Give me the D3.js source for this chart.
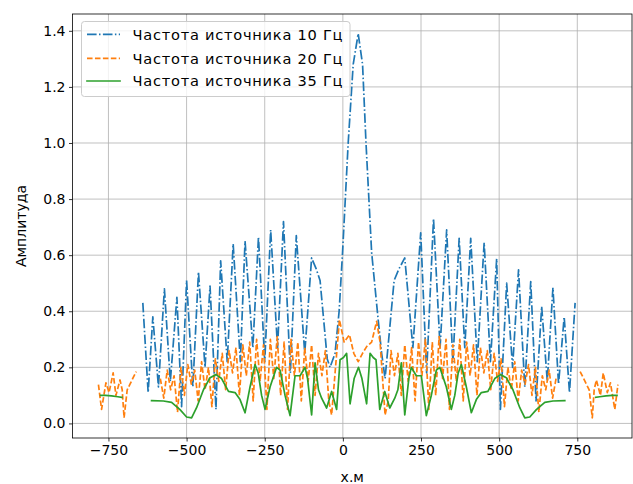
<!DOCTYPE html>
<html><head><meta charset="utf-8">
<script src="https://cdn.jsdelivr.net/npm/d3@7"></script>
<style>body{margin:0;background:#fff}svg{display:block}</style>
</head><body>
<svg id="chart" width="633" height="484"></svg>
<script>
// ---- data ----
const seriesNames = ["Частота источника 10 Гц", "Частота источника 20 Гц", "Частота источника 35 Гц"];
const xTicks = [-750, -500, -250, 0, 250, 500, 750];
const yTicks = [0.0, 0.2, 0.4, 0.6, 0.8, 1.0, 1.2, 1.4];
const xLabel = "х.м";
const yLabel = "Амплитуда";

// 10 Hz  [x, amplitude]
const amp10 = [
 [-640,0.43],[-623,0.11],[-608,0.38],[-590,0.13],[-571,0.48],[-552,0.15],[-531,0.45],[-516,0.06],
 [-500,0.51],[-480,0.13],[-462,0.54],[-441,0.20],[-425,0.49],[-406,0.05],[-391,0.58],[-370,0.22],
 [-351,0.64],[-328,0.22],[-313,0.65],[-288,0.27],[-270,0.665],[-250,0.22],[-231,0.69],[-209,0.27],
 [-190,0.72],[-168,0.18],[-149,0.67],[-122,0.25],[-100,0.59],[-85,0.55],[-73,0.51],[-50,0.23],
 [-41,0.20],[-25,0.25],[-12,0.40],[-1,0.61],[17,1.0],[33,1.28],[49,1.39],[63,1.28],[74,1.0],
 [92,0.61],[112,0.38],[124,0.25],[135,0.16],[164,0.51],[179,0.55],[198,0.59],[224,0.27],
 [249,0.68],[268,0.18],[290,0.73],[311,0.27],[332,0.69],[352,0.22],[372,0.66],[390,0.27],
 [409,0.66],[430,0.22],[452,0.645],[472,0.22],[492,0.587],[504,0.05],[524,0.50],[543,0.20],
 [562,0.548],[582,0.13],[601,0.506],[618,0.08],[636,0.417],[654,0.15],[672,0.484],[690,0.14],
 [708,0.38],[725,0.11],[743,0.43]
];

// 20 Hz  [x, amplitude], null = gap
const amp20 = [
 [-782,0.138],[-772,0.05],[-758,0.145],[-748,0.11],[-735,0.18],[-726,0.10],[-713,0.155],[-706,0.12],
 [-700,0.02],[-690,0.12],[-681,0.14],[-671,0.163],[-661,0.185],[-620,null],
 [-584,0.16],[-573,0.09],[-562,0.19],[-551,0.12],[-540,0.17],[-529,0.04],[-518,0.20],[-507,0.10],
 [-496,0.21],[-485,0.14],[-474,0.19],[-463,0.08],[-452,0.22],[-441,0.12],[-430,0.20],[-419,0.06],
 [-408,0.23],[-397,0.15],[-386,0.25],[-375,0.12],[-364,0.26],[-353,0.18],[-342,0.27],[-331,0.10],
 [-320,0.28],[-309,0.17],[-298,0.29],[-287,0.08],[-276,0.30],[-265,0.15],[-254,0.28],[-243,0.05],
 [-232,0.30],[-221,0.16],[-210,0.31],[-199,0.10],[-188,0.29],[-177,0.05],[-166,0.30],[-155,0.17],
 [-144,0.29],[-133,0.08],[-122,0.27],[-111,0.15],[-100,0.28],[-89,0.10],[-78,0.25],[-67,0.17],
 [-56,0.26],[-45,0.08],[-36,0.03],[-11,0.37],[4,0.29],[21,0.316],[35,0.25],[49,0.22],[63,0.25],
 [76,0.274],[92,0.29],[108,0.364],[119,0.29],[135,0.03],[145,0.08],[154,0.26],[165,0.17],
 [176,0.25],[187,0.10],[198,0.28],[209,0.15],[220,0.27],[231,0.08],[242,0.29],[253,0.17],
 [264,0.30],[275,0.05],[286,0.29],[297,0.10],[308,0.31],[319,0.16],[330,0.30],[341,0.05],
 [352,0.28],[363,0.15],[374,0.30],[385,0.08],[396,0.29],[407,0.17],[418,0.28],[429,0.10],
 [440,0.27],[451,0.18],[462,0.26],[473,0.12],[484,0.25],[495,0.15],[506,0.23],[517,0.06],
 [528,0.20],[539,0.12],[550,0.22],[561,0.08],[572,0.19],[583,0.14],[594,0.21],[605,0.10],
 [616,0.20],[627,0.04],[638,0.17],[649,0.12],[660,0.19],[671,0.09],[682,0.16],[720,null],
 [759,0.185],[769,0.163],[779,0.14],[788,0.12],[798,0.02],[804,0.12],[811,0.155],[824,0.10],
 [833,0.18],[846,0.11],[856,0.145],[870,0.05],[880,0.138]
];

// 35 Hz  [x, amplitude], null = gap
const amp35 = [
 [-775,0.100],[-760,0.100],[-740,0.098],[-720,0.095],[-707,0.093],[-660,null],
 [-612,0.081],[-574,0.080],[-548,0.075],[-521,0.049],[-500,0.023],[-484,0.020],[-468,0.056],
 [-446,0.12],[-425,0.163],[-406,0.174],[-388,0.16],[-366,0.114],[-345,0.11],[-329,0.085],
 [-313,0.038],[-297,0.13],[-281,0.21],[-271,0.18],[-260,0.10],[-249,0.05],[-233,0.13],
 [-212,0.20],[-201,0.19],[-185,0.10],[-169,0.028],[-153,0.17],[-137,0.17],[-121,0.20],
 [-113,0.16],[-100,0.03],[-89,0.216],[-78,0.12],[-68,0.09],[-52,0.055],[-36,0.114],[-20,0.05],
 [-9,0.227],[2,0.235],[12,0.25],[23,0.07],[36,0.16],[50,0.20],[61,0.16],[76,0.07],[87,0.25],
 [97,0.235],[106,0.227],[118,0.05],[134,0.114],[150,0.055],[166,0.09],[176,0.12],[187,0.216],
 [198,0.03],[211,0.16],[219,0.20],[235,0.17],[251,0.17],[267,0.028],[283,0.10],[299,0.19],
 [310,0.20],[331,0.13],[347,0.05],[358,0.10],[369,0.18],[379,0.21],[395,0.13],[411,0.038],
 [427,0.085],[443,0.11],[464,0.114],[486,0.16],[504,0.174],[523,0.163],[544,0.12],[566,0.056],
 [582,0.020],[598,0.023],[619,0.049],[646,0.075],[672,0.080],[710,0.081],[760,null],
 [809,0.093],[822,0.095],[842,0.098],[862,0.100],[877,0.100]
];

// ---- drawing ----
const W = 633, H = 484;
const L = 72.5, R = 632, T = 14, B = 438;
const FONT = "'DejaVu Sans', sans-serif";
const FS = 14;
const LW = 1.7;
const colors = ["#1f77b4", "#ff7f0e", "#2ca02c"];
const dashes = ["9.6,2.4,1.5,2.4", "5.55,2.4", null];

const svg = d3.select("#chart");
svg.append("rect").attr("width", W).attr("height", H).attr("fill", "#fff");

const x = d3.scaleLinear().domain([-865, 925]).range([L, R]);
const y = d3.scaleLinear().domain([-0.052, 1.46]).range([B, T]);

const fmtX = d => (d < 0 ? "\u2212" + Math.abs(d) : String(d));
const fmtY = d => d.toFixed(1);

// grid
const grid = svg.append("g").attr("stroke", "#b0b0b0").attr("stroke-width", 0.8);
grid.selectAll("line.gx").data(xTicks).join("line")
  .attr("x1", d => x(d)).attr("x2", d => x(d)).attr("y1", T).attr("y2", B);
grid.selectAll("line.gy").data(yTicks).join("line")
  .attr("y1", d => y(d)).attr("y2", d => y(d)).attr("x1", L).attr("x2", R);

// clip
svg.append("clipPath").attr("id", "clip").append("rect")
  .attr("x", L).attr("y", T).attr("width", R - L).attr("height", B - T);

const line = d3.line().defined(d => d[1] !== null).x(d => x(d[0])).y(d => y(d[1]));
const all = [amp10, amp20, amp35];
const plot = svg.append("g").attr("clip-path", "url(#clip)");
all.forEach((s, i) => {
  plot.append("path").datum(s).attr("d", line)
    .attr("fill", "none").attr("stroke", colors[i]).attr("stroke-width", LW)
    .attr("stroke-linejoin", "round")
    .attr("stroke-linecap", dashes[i] ? "butt" : "square")
    .attr("stroke-dasharray", dashes[i]);
});

// axes
const xAxis = d3.axisBottom(x).tickValues(xTicks).tickFormat(fmtX).tickSize(3.5).tickPadding(3.5);
const yAxis = d3.axisLeft(y).tickValues(yTicks).tickFormat(fmtY).tickSize(3.5).tickPadding(3.5);
const gx = svg.append("g").attr("transform", `translate(0,${B})`).call(xAxis);
const gy = svg.append("g").attr("transform", `translate(${L},0)`).call(yAxis);
[gx, gy].forEach(g => {
  g.select(".domain").remove();
  g.selectAll(".tick line").attr("stroke", "#000").attr("stroke-width", 0.8);
  g.selectAll(".tick text").attr("fill", "#000").style("font-family", FONT).style("font-size", FS + "px");
});

// spines
svg.append("rect").attr("x", L).attr("y", T).attr("width", R - L).attr("height", B - T)
  .attr("fill", "none").attr("stroke", "#000").attr("stroke-width", 0.8);

// axis labels
svg.append("text").attr("x", (L + R) / 2).attr("y", 482).attr("text-anchor", "middle")
  .style("font-family", FONT).style("font-size", FS + "px").text(xLabel);
svg.append("text").attr("transform", `translate(26,${(T + B) / 2}) rotate(-90)`)
  .attr("text-anchor", "middle").style("font-family", FONT).style("font-size", FS + "px").text(yLabel);

// legend
const lg = svg.append("g");
lg.append("rect").attr("x", 81.5).attr("y", 21.5).attr("width", 268.5).attr("height", 75)
  .attr("rx", 3).attr("fill", "#fff").attr("fill-opacity", 0.8).attr("stroke", "#cccccc").attr("stroke-width", 1);
const rows = [34.3, 58.3, 81];
seriesNames.forEach((name, i) => {
  lg.append("line").attr("x1", 87).attr("x2", 120).attr("y1", rows[i]).attr("y2", rows[i])
    .attr("stroke", colors[i]).attr("stroke-width", LW).attr("stroke-dasharray", dashes[i])
    .attr("stroke-linecap", dashes[i] ? "butt" : "square");
  lg.append("text").attr("x", 132.5).attr("y", rows[i]).attr("dy", "0.36em")
    .attr("textLength", 210).attr("lengthAdjust", "spacing")
    .style("font-family", FONT).style("font-size", "14.6px").text(name);
});
</script>
</body></html>
